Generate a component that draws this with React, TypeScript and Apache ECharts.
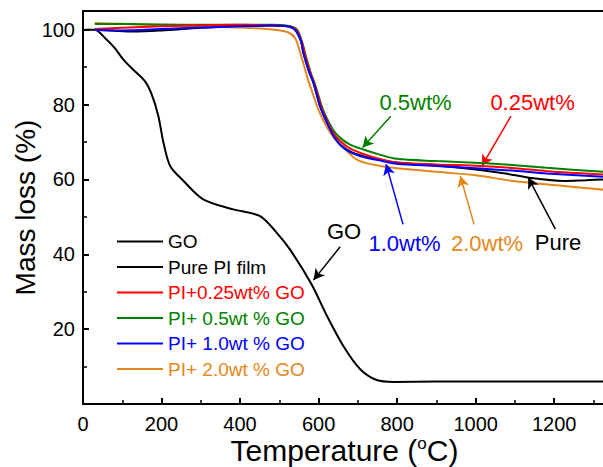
import React, { useEffect, useRef } from "react";
import * as echarts from "echarts";

// Temperature (°C), mass (%) pairs
const goData: [number, number][] = [
  [5, 100], [30, 100], [56, 97.8], [80, 95.2], [103, 92], [128, 89.3], [158, 86.2],
  [175, 82.7], [192, 76.9], [205, 69.8], [222, 63.6], [256, 59.6], [306, 54.7],
  [383, 52], [451, 50.2], [493, 45.8], [527, 41.3], [582, 32], [621, 23.6],
  [663, 15.5], [706, 9.3], [748, 6.4], [791, 5.9], [900, 6.0], [1100, 6.0], [1332, 6.0],
];
const pureData: [number, number][] = [
  [30, 100], [80, 99.7], [130, 99.5], [200, 99.8], [300, 100.5], [400, 100.9],
  [480, 101.1], [520, 100.9], [540, 100], [555, 97], [561, 94], [575, 89], [587, 85.8],
  [604, 79.5], [620, 75.5], [638, 71.8], [655, 69.5], [680, 67.5], [714, 66.2],
  [760, 65.2], [799, 64.5], [900, 63.7], [1011, 62.5], [1080, 61.5], [1139, 60.4],
  [1224, 59.6], [1280, 59.8], [1332, 60],
];
const pi025Data: [number, number][] = [
  [30, 100.2], [100, 100.5], [200, 100.9], [300, 101.2], [400, 101.3], [480, 101.2],
  [523, 100.9], [543, 100], [558, 96.5], [564, 93.8], [578, 88.8], [590, 85.3],
  [607, 79.3], [623, 75.3], [640, 72], [655, 70.3], [680, 68.3], [714, 66.8],
  [760, 65.3], [799, 64.5], [900, 64], [1011, 63.6], [1100, 63], [1181, 62.2], [1332, 61.3],
];
const pi05Data: [number, number][] = [
  [30, 101.5], [100, 101.5], [200, 101.4], [300, 101.3], [400, 101.3], [480, 101.3],
  [525, 101], [545, 100], [560, 96], [566, 93.5], [580, 88.5], [592, 85], [610, 79],
  [625, 75.5], [640, 72.8], [655, 71.1], [680, 69.3], [714, 68], [760, 66.5],
  [799, 65.5], [900, 64.9], [1011, 64.4], [1100, 63.8], [1181, 63.1], [1332, 62],
];
const pi10Data: [number, number][] = [
  [30, 99.9], [100, 99.8], [200, 100.2], [300, 100.6], [400, 100.9], [480, 101.1],
  [520, 100.9], [540, 100], [555, 97], [561, 94], [575, 89], [587, 85.8], [604, 79.5],
  [620, 75.5], [638, 71.6], [655, 69.2], [680, 67.3], [714, 66], [760, 65], [799, 64.2],
  [900, 63.6], [1011, 62.9], [1100, 62.3], [1181, 61.6], [1332, 60.7],
];
const pi20Data: [number, number][] = [
  [30, 101.8], [100, 101.6], [200, 101.2], [300, 100.9], [400, 100.6], [480, 100.1],
  [520, 99.4], [540, 97.8], [553, 94], [560, 91.5], [572, 87], [585, 83], [600, 78.5],
  [621, 74], [640, 71], [655, 69.5], [697, 65.3], [757, 63.6], [850, 62.5], [927, 61.8],
  [1000, 61.1], [1096, 59.6], [1200, 58.5], [1332, 57.2],
];

const seriesNames = [
  "GO",
  "Pure PI film",
  "PI+0.25wt% GO",
  "PI+ 0.5wt % GO",
  "PI+ 1.0wt % GO",
  "PI+ 2.0wt % GO",
];
const seriesColors = ["#000000", "#000000", "#FF0000", "#008000", "#0000FF", "#E5871A"];

// Annotation labels: [text, x, y] and arrows [x1, y1, x2, y2]
const annotationTexts: [string, number, number][] = [
  ["GO", 665, 46.2],
  ["Pure", 1210, 43.2],
  ["0.25wt%", 1145, 80.5],
  ["0.5wt%", 847, 80.5],
  ["1.0wt%", 819, 42.9],
  ["2.0wt%", 1029, 42.9],
];
const annotationArrows: [number, number, number, number][] = [
  [655, 42, 587, 33.1],
  [1203, 46.7, 1134, 60.5],
  [1090, 76.9, 1016, 63.6],
  [784, 76.9, 712, 68.5],
  [815, 48, 772, 64.1],
  [996, 48, 961, 60.9],
];

const xTicks = { min: 0, max: 1332, interval: 200 };
const yTicks = { min: 0, max: 105, interval: 20 };

const FONT = "'Liberation Sans', Arial, sans-serif";

export default function App() {
  const ref = useRef<HTMLDivElement>(null);
  useEffect(() => {
    if (!ref.current) return;
    const chart = echarts.init(ref.current, null, { renderer: "svg" });
    const datasets = [goData, pureData, pi025Data, pi05Data, pi10Data, pi20Data];
    const drawOrder = [0, 1, 5, 3, 2, 4];
    const series = drawOrder.map((i) => {
      const [txt, tx, ty] = annotationTexts[i];
      const [x1, y1, x2, y2] = annotationArrows[i];
      return {
        type: "line",
        name: seriesNames[i],
        data: datasets[i],
        showSymbol: false,
        symbol: "none",
        smooth: 0.3,
        lineStyle: { width: 2, color: seriesColors[i] },
        itemStyle: { color: seriesColors[i] },
        z: 2 + drawOrder.indexOf(i),
        markPoint: {
          silent: true,
          symbol: "circle",
          symbolSize: 0,
          itemStyle: { color: "transparent" },
          label: {
            show: true,
            position: "inside",
            formatter: txt,
            color: seriesColors[i],
            fontSize: 22,
            fontFamily: FONT,
          },
          data: [{ coord: [tx, ty] }],
        },
        markLine: {
          silent: true,
          symbol: ["none", "arrow"],
          symbolSize: [9, 11],
          label: { show: false },
          lineStyle: { type: "solid", width: 1.5, color: seriesColors[i] },
          data: [[{ coord: [x1, y1] }, { coord: [x2, y2] }]],
        },
      };
    });

    chart.setOption({
      animation: false,
      backgroundColor: "#ffffff",
      textStyle: { fontFamily: FONT },
      grid: {
        left: 83,
        right: -3,
        top: 11,
        bottom: 63,
        outerBoundsMode: "none",
        containLabel: false,
        show: true,
        borderColor: "#000",
        borderWidth: 2,
        backgroundColor: "transparent",
      },
      legend: {
        orient: "vertical",
        left: 112,
        top: 227,
        itemWidth: 46,
        itemHeight: 2,
        itemGap: 6.5,
        icon: "rect",
        selectedMode: false,
        textStyle: { fontSize: 19, fontFamily: FONT },
        data: seriesNames.map((n, i) => ({ name: n, textStyle: { color: seriesColors[i] } })),
      },
      xAxis: {
        type: "value",
        min: xTicks.min,
        max: xTicks.max,
        interval: xTicks.interval,
        name: "Temperature ({sup|o}C)",
        nameLocation: "middle",
        nameGap: 31,
        nameMoveOverlap: false,
        nameTextStyle: {
          fontSize: 30,
          lineHeight: 30,
          color: "#000",
          fontFamily: FONT,
          rich: {
            sup: { fontSize: 17, lineHeight: 17, verticalAlign: "top", color: "#000", fontFamily: FONT },
          },
        },
        axisLine: { show: true, lineStyle: { color: "#000", width: 2 } },
        axisTick: { show: true, inside: true, length: 6, lineStyle: { color: "#000", width: 2 } },
        minorTick: { show: true, splitNumber: 2, length: 4, lineStyle: { color: "#000", width: 1.5 } },
        splitLine: { show: false },
        axisLabel: {
          fontSize: 20,
          lineHeight: 20,
          color: "#000",
          margin: 10,
          showMaxLabel: false,
          fontFamily: FONT,
          formatter: (v: number) => String(v),
        },
      },
      yAxis: {
        type: "value",
        min: yTicks.min,
        max: yTicks.max,
        interval: yTicks.interval,
        name: "Mass loss (%)",
        nameLocation: "middle",
        nameGap: 44,
        nameMoveOverlap: false,
        nameTextStyle: { fontSize: 28, color: "#000", fontFamily: FONT },
        axisLine: { show: true, lineStyle: { color: "#000", width: 2 } },
        axisTick: { show: true, inside: true, length: 6, lineStyle: { color: "#000", width: 2 } },
        minorTick: { show: true, splitNumber: 2, length: 4, lineStyle: { color: "#000", width: 1.5 } },
        splitLine: { show: false },
        axisLabel: {
          fontSize: 20,
          color: "#000",
          margin: 8,
          showMinLabel: false,
          showMaxLabel: false,
          fontFamily: FONT,
          formatter: (v: number) => String(v),
        },
      },
      series,
    });
    return () => chart.dispose();
  }, []);
  return (
    <div
      ref={ref}
      style={{ position: "fixed", left: 0, top: 0, width: 603, height: 467, background: "#fff" }}
    />
  );
}
